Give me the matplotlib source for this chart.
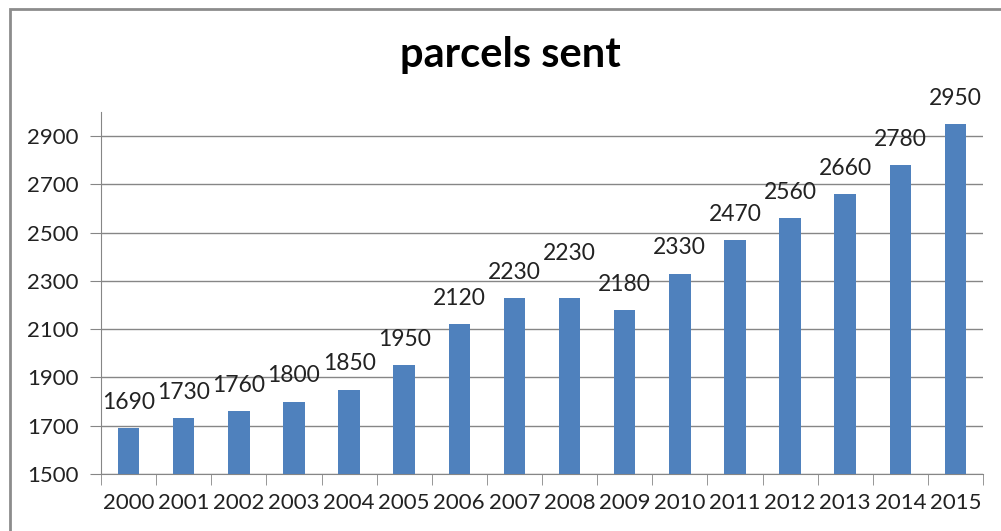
import matplotlib
matplotlib.use("Agg")
import matplotlib.pyplot as plt
from matplotlib.patches import Rectangle

years = ["2000", "2001", "2002", "2003", "2004", "2005", "2006", "2007",
         "2008", "2009", "2010", "2011", "2012", "2013", "2014", "2015"]
parcels = [1690, 1730, 1760, 1800, 1850, 1950, 2120, 2230,
           2230, 2180, 2330, 2470, 2560, 2660, 2780, 2950]
y_ticks = list(range(1500, 3000, 200))

plt.rcParams['font.family'] = ['Lato', 'DejaVu Sans']

fig = plt.figure(figsize=(10.01, 5.31), dpi=100)
ax = fig.add_axes([101 / 1001, 1 - 474 / 531, 882 / 1001, 362 / 531])

# outer chart border (only top/left visible in the crop)
fig.patches.append(Rectangle((10 / 1001, -0.1), 1.2, 1 - 9 / 531 + 0.1,
                             transform=fig.transFigure, fill=False,
                             edgecolor='#8c8c8c', linewidth=2))

x = range(len(years))
bars = ax.bar(x, parcels, width=0.39, color='#4f81bd', zorder=3)

ax.set_ylim(1500, 3000)
ax.set_xlim(-0.5, len(years) - 0.5)
ax.set_yticks(y_ticks)
ax.set_yticklabels([str(t) for t in y_ticks], fontsize=16, color='#222222')
ax.set_xticks(list(x))
ax.set_xticklabels(years, fontsize=16, color='#222222')
ax.tick_params(axis='x', length=0, pad=14)
ax.tick_params(axis='y', length=8, color='#868686', pad=8)
ax.set_xticks([i - 0.5 for i in range(len(years) + 1)], minor=True)
ax.tick_params(axis='x', which='minor', length=8, color='#868686')

ax.grid(axis='y', color='#868686', linewidth=1, zorder=0)
for side in ['top', 'right']:
    ax.spines[side].set_visible(False)
ax.spines['left'].set_color('#868686')
ax.spines['bottom'].set_color('#868686')

extra = {8: 13}
for i, (b, v) in enumerate(zip(bars, parcels)):
    ax.annotate(str(v), (b.get_x() + b.get_width() / 2, v),
                xytext=(0, 11 + extra.get(i, 0)), textcoords='offset points',
                ha='center', va='bottom', fontsize=16.5, color='#222222',
                annotation_clip=False)

fig.text(510 / 1001, 1 - 55 / 531, "parcels sent", ha='center', va='center',
         fontsize=30, fontweight='bold', color='black')

fig.savefig("out.png", dpi=100)
